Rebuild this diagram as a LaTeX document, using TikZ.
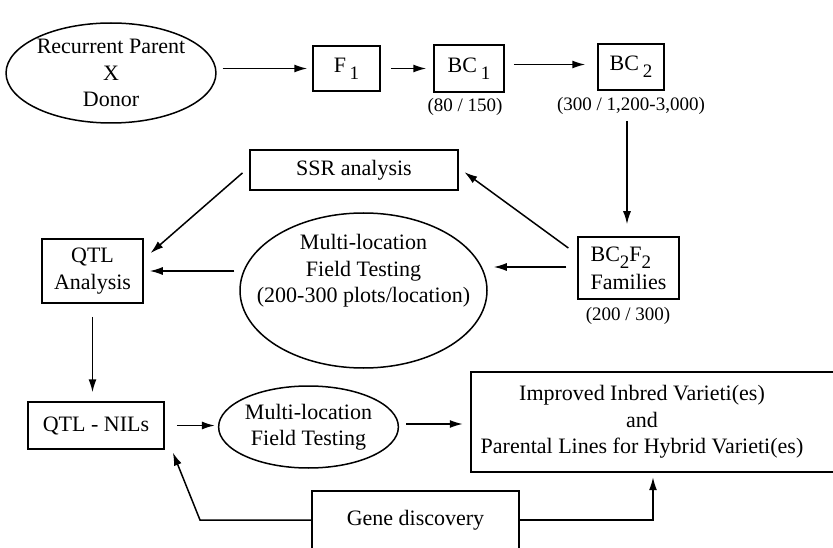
\documentclass[tikz,border=0pt]{standalone}
\usepackage{fontspec}
\setmainfont{Liberation Serif}
\usetikzlibrary{arrows.meta,shapes.geometric,calc}
\newcommand\mainfs{\fontsize{22}{26.5}\selectfont}
\newcommand\labfs{\fontsize{19}{22}\selectfont}
\newcommand\subsc[1]{\raisebox{-0.32em}{\fontsize{19}{19}\selectfont #1}}
\tikzset{
  box/.style={draw, line width=1.5pt, rectangle, inner sep=0pt, font=\mainfs, align=center},
  ell/.style={draw, line width=1.5pt, ellipse, inner sep=0pt, font=\mainfs, align=center},
  txt/.style={inner sep=0pt, font=\mainfs, align=center},
  lab/.style={inner sep=0pt, font=\labfs},
  arr/.style={line width=1.5pt, -{Latex[length=13pt,width=8pt]}},
  plain/.style={line width=1.5pt}
}
\begin{document}
\begin{tikzpicture}[x=1pt,y=-1pt]
\useasboundingbox (0,0) rectangle (833,548);
% top row
\node[ell, minimum width=202pt, minimum height=100pt] (rp) at (111,73) {Recurrent Parent\\X\\Donor};
\node[box, minimum width=67pt, minimum height=45pt] (f1) at (346.5,68.5) {F\,\subsc{1}};
\node[box, minimum width=70pt, minimum height=47pt] (bc1) at (469,68.5) {BC\,\subsc{1}};
\node[lab] (l1) at (465,107) {(80 / 150)};
\node[box, minimum width=66pt, minimum height=46pt] (bc2) at (631,67) {BC\,\subsc{2}};
\node[lab] (l2) at (631,106) {(300 / 1,200-3,000)};
% middle
\node[box, minimum width=101pt, minimum height=62pt, align=left, font=\fontsize{22}{28}\selectfont] (bcf) at (628.5,268) {BC\subsc{2}F\subsc{2}\\Families};
\node[lab] (l3) at (628,316) {(200 / 300)};
\node[box, minimum width=208pt, minimum height=40pt] (ssr) at (354,170) {SSR analysis};
\node[box, minimum width=101pt, minimum height=64pt] (qtla) at (92.5,271) {QTL\\Analysis};
\node[ell, minimum width=247pt, minimum height=155pt] (big) at (363.5,290.5) {};
\node[txt] (bigt) at (363.5,271) {Multi-location\\Field Testing\\(200-300 plots/location)};
% bottom
\node[box, minimum width=136pt, minimum height=47pt] (nils) at (96,425.5) {QTL - NILs};
\node[ell, minimum width=177pt, minimum height=82pt] (sm) at (308.5,427) {Multi-location\\Field Testing};
\node[txt, minimum width=342pt, minimum height=100pt] (imp) at (642,422) {Improved Inbred Varieti(es)\\and\\Parental Lines for Hybrid Varieti(es)};
\draw[plain] (840,372) -- (471,372) -- (471,472) -- (840,472);
\node[txt, minimum width=207pt, minimum height=58pt] (gene) at (415.5,520) {Gene discovery};
\draw[plain] (312,552) -- (312,491) -- (519,491) -- (519,552);
\coordinate (bend) at (200,520);
% arrows
\draw[arr, shorten <=6pt, shorten >=5pt] (rp.east |- f1.west) -- (f1.west);
\draw[arr, shorten <=10pt, shorten >=7pt] (f1.east) -- (f1.east -| bc1.west);
\draw[arr, shorten <=9pt, shorten >=12pt] ([yshift=4pt]bc1.east) -- ([yshift=4pt]bc1.east -| bc2.west);
\draw[arr, shorten <=6pt, shorten >=12pt] ([xshift=-1.5pt]l2.south -| bcf.north) -- ([xshift=-1.5pt]bcf.north);
\draw[arr, shorten <=11pt, shorten >=7pt] ([yshift=13.5pt]bcf.west) -- ([yshift=2pt]ssr.east);
\draw[arr, shorten <=9pt, shorten >=9pt] ([yshift=3pt]ssr.west) -- ([yshift=12pt]qtla.east);
\draw[arr, shorten >=6pt] ([xshift=-5pt]big.west |- qtla.east) -- (qtla.east);
\draw[arr, shorten <=11pt, shorten >=6pt] ([yshift=1pt]bcf.west) -- ([yshift=1pt]bcf.west -| big.east);
\draw[arr, shorten <=13pt, shorten >=9pt] (qtla.south) -- (qtla.south |- nils.north);
\draw[arr, shorten <=12pt, shorten >=3pt] (nils.east) -- (nils.east -| sm.west);
\draw[arr, shorten <=7pt, shorten >=8pt] ([yshift=3pt]sm.east) -- ([yshift=3pt]sm.east -| imp.west);
\draw[arr, shorten >=5pt] (gene.east) -| ([xshift=11pt]imp.south);
\draw[arr, shorten >=3pt] (gene.west) -- (bend) -- ([xshift=7pt]nils.south east);
\end{tikzpicture}
\end{document}
